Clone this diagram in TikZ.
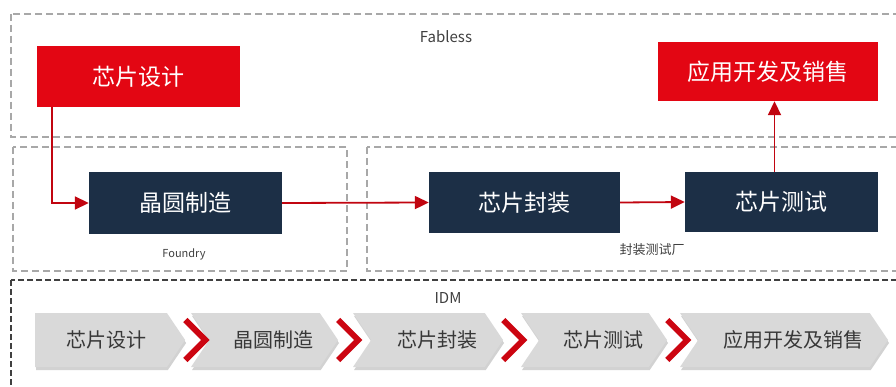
\documentclass[tikz,border=0pt]{standalone}
\usepackage{fontspec}
\setmainfont{Noto Sans CJK SC}
\usetikzlibrary{arrows.meta,shapes.symbols,shadows}
\definecolor{cnred}{HTML}{E30613}
\definecolor{navy}{HTML}{1C2F46}
\definecolor{dashgray}{HTML}{A8A8A8}
\definecolor{chevgray}{HTML}{D9D9D9}
\begin{document}
\begin{tikzpicture}[x=1pt,y=-1pt,
  redbox/.style={fill=cnred, text=white, inner sep=0pt, font=\fontsize{23}{26}\selectfont},
  navybox/.style={fill=navy, text=white, inner sep=0pt, font=\fontsize{23}{26}\selectfont},
  zone/.style={draw=dashgray, line width=1.4pt, dash pattern=on 7pt off 4pt},
  flow/.style={draw=cnred!85!black, line width=1.8pt, -{Triangle[length=14pt,width=13pt]}},
  chev/.style={signal, signal to=east, signal pointer angle=112, fill=chevgray, inner sep=0pt,
    minimum height=54pt, text=black!78, font=\fontsize{20}{24}\selectfont,
    drop shadow={shadow xshift=1pt, shadow yshift=-3pt, opacity=.35, fill=gray}},
  sep/.style={draw=cnred!90!black, line width=6pt, miter limit=10}]
\useasboundingbox (0,0) rectangle (896,387);
\fill[white] (0,0) rectangle (896,387);
\draw[zone] (11,14) rectangle (910,137);
\draw[zone] (13,147) rectangle (347,271);
\draw[zone] (367,147) rectangle (910,271);
\draw[draw=black!75, line width=2pt, dash pattern=on 6pt off 3pt] (11,280) rectangle (910,400);
\node[font=\fontsize{15}{18}\selectfont, text=black!75] (fabless) at (446,37){Fabless};
\node[font=\fontsize{11}{13}\selectfont, text=black!75] (foundry) at (184,254){Foundry};
\node[font=\fontsize{13}{15}\selectfont, text=black!75] (osat) at (652,250){封装测试厂};
\node[font=\fontsize{15}{18}\selectfont, text=black!75] (idm) at (448,298){IDM};
\node[redbox, minimum width=203pt, minimum height=61pt] (design) at (138.5,76.5){芯片设计};
\node[redbox, minimum width=220pt, minimum height=59pt] (app) at (768,71.5){应用开发及销售};
\node[navybox, minimum width=193pt, minimum height=62pt] (wafer) at (185.5,203){晶圆制造};
\node[navybox, minimum width=191pt, minimum height=61pt] (package) at (524.5,202.5){芯片封装};
\node[navybox, minimum width=193pt, minimum height=60pt] (test) at (781.5,202){芯片测试};
\draw[flow] ([xshift=15pt]design.south west) |- (wafer.west);
\draw[flow] (wafer.east) -- (package.west);
\draw[flow] (package.east) -- (test.west);
\draw[flow] ([xshift=-7pt]test.north) -- ([xshift=-7pt]test.north |- app.south);
\node[chev, signal from=nowhere, minimum width=150pt] (idm1) at (101,340){\hspace*{10pt}芯片设计};
\node[chev, signal from=west, minimum width=147pt] (idm2) at (264.5,340){\hspace*{18pt}晶圆制造};
\node[chev, signal from=west, minimum width=150pt] (idm3) at (428,340){\hspace*{18pt}芯片封装};
\node[chev, signal from=west, minimum width=146pt] (idm4) at (594,340){\hspace*{18pt}芯片测试};
\node[chev, signal from=west, minimum width=208pt] (idm5) at (784,340){\hspace*{18pt}应用开发及销售};
\foreach \a in {idm1,idm2,idm3,idm4}
  \draw[sep] ([shift={(0,-20)}]\a.east) -- ++(20,20) -- ++(-20,20);
\end{tikzpicture}
\end{document}
